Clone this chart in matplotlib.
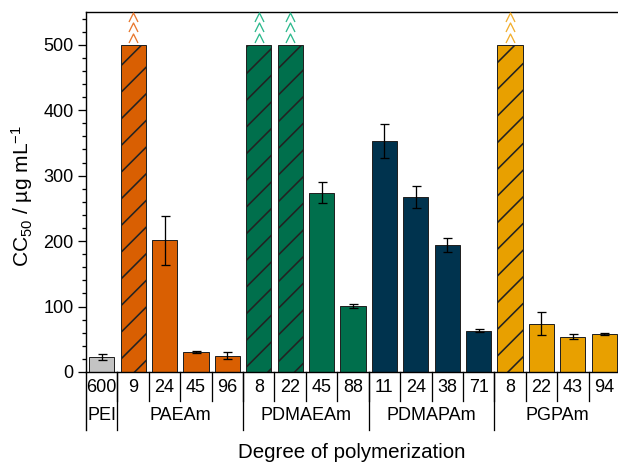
import matplotlib.pyplot as plt
from matplotlib.path import Path
from matplotlib.ticker import MultipleLocator
from matplotlib.transforms import blended_transform_factory
import numpy as np

DPI = 160
W, H = 618, 463
PX = 72.0 / DPI  # points per pixel

plt.rcParams['font.family'] = ['Liberation Sans', 'DejaVu Sans']
plt.rcParams['mathtext.fontset'] = 'custom'
plt.rcParams['mathtext.rm'] = 'Liberation Sans'
plt.rcParams['mathtext.it'] = 'Liberation Sans:italic'
plt.rcParams['hatch.linewidth'] = 1.6 * PX
plt.rcParams['hatch.color'] = 'black'

# data
groups = ['PEI', 'PAEAm', 'PDMAEAm', 'PDMAPAm', 'PGPAm']
dp_labels = [['600'], ['9', '24', '45', '96'], ['8', '22', '45', '88'],
             ['11', '24', '38', '71'], ['8', '22', '43', '94']]
cc50 = [[23], [500, 201, 31, 25], [500, 500, 274, 101],
        [353, 267, 194, 63], [500, 74, 54, 58]]
cc50_err = [[5], [0, 38, 1.5, 5], [0, 0, 16, 3],
            [26, 17, 10, 2.5], [0, 17, 3.5, 2]]
# CC50 above the tested range (> 500)
above_range = [[False], [True, False, False, False], [True, True, False, False],
               [False, False, False, False], [True, False, False, False]]

bar_colors = ['#c3c3c3', '#d95f02', '#006f4c', '#00334e', '#e8a000']
caret_colors = [None, '#e8782e', '#2db88d', None, '#f2ae2e']

fig = plt.figure(figsize=(W / DPI, H / DPI), dpi=DPI)
ax = fig.add_axes([86 / W, (H - 372) / H, (620 - 86) / W, 360 / H])
trans = blended_transform_factory(ax.transData, ax.transAxes)

caret = Path([(-1, -1), (0, 1), (1, -1)], [Path.MOVETO, Path.LINETO, Path.LINETO])

x = 0
bounds = []
for g, name in enumerate(groups):
    start = x
    for i, val in enumerate(cc50[g]):
        b = ax.bar(x, val, width=0.8, color=bar_colors[g], edgecolor='#222222',
                   linewidth=1.0 * PX, zorder=2)
        if above_range[g][i]:
            b[0].set_hatch('//')
            for k in range(3):
                ax.plot(x, val + 11 + k * 15.5, marker=caret, markersize=9 * PX,
                        markerfacecolor='none', markeredgecolor=caret_colors[g],
                        markeredgewidth=1.3 * PX, clip_on=False, zorder=3)
        else:
            ax.errorbar(x, val, yerr=cc50_err[g][i], fmt='none', ecolor='black',
                        elinewidth=1.3 * PX, capsize=4.5 * PX, capthick=1.3 * PX, zorder=3)
        ax.annotate(dp_labels[g][i], (x, 0), xycoords=trans, xytext=(0, -15),
                    textcoords='offset pixels', ha='center', va='center',
                    fontsize=18 * PX)
        if x > 0:
            ax.plot([x - 0.5, x - 0.5], [0, -29 / 360], transform=trans,
                    color='black', lw=1.3 * PX, clip_on=False)
        x += 1
    mid = (start + x - 1) / 2
    ax.annotate(name, (mid, 0), xycoords=trans, xytext=(0, -44),
                textcoords='offset pixels', ha='center', va='center',
                fontsize=18 * PX)
    if g < len(groups) - 1:
        bounds.append(x - 0.5)

for b in bounds:
    ax.plot([b, b], [0, -58 / 360], transform=trans, color='black',
            lw=1.3 * PX, clip_on=False)
ax.plot([-0.5, -0.5], [0, -58 / 360], transform=trans, color='black',
        lw=1.4 * PX, clip_on=False)

ax.set_xlim(-0.5, x - 0.5)
ax.set_ylim(0, 550)
ax.set_xticks([])
ax.set_yticks(np.arange(0, 501, 100))
ax.yaxis.set_minor_locator(MultipleLocator(20))
ax.tick_params(axis='y', which='major', direction='out', length=8.5 * PX,
               width=1.3 * PX, labelsize=18 * PX, pad=3 * PX * 1.3)
ax.tick_params(axis='y', which='minor', direction='out', length=4.5 * PX,
               width=1.3 * PX)
ax.spines['right'].set_visible(False)
for s in ['left', 'top', 'bottom']:
    ax.spines[s].set_linewidth(1.4 * PX)

fig.text(22 / W, 1 - 196 / H, r'CC$_\mathregular{50}$ / µg mL$^\mathregular{-1}$',
         rotation=90, ha='center', va='center', fontsize=21 * PX)
fig.text(352 / W, 1 - 452 / H, 'Degree of polymerization', ha='center',
         va='center', fontsize=20.5 * PX)

fig.savefig('out.png', dpi=DPI)
